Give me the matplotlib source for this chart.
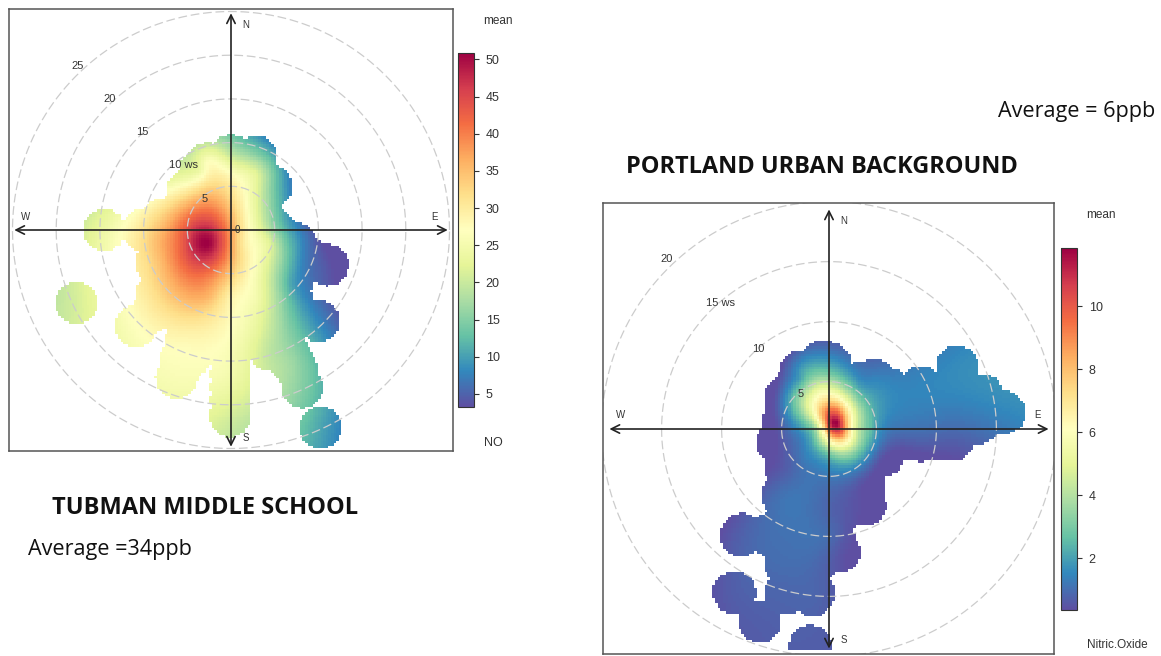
import numpy as np
import matplotlib
matplotlib.use("Agg")
import matplotlib.pyplot as plt

W, H = 1161, 656
plt.rcParams['font.family'] = ['Liberation Sans', 'DejaVu Sans']

# Tubman: (east, north, mean NO)
tub_u = [-17.7,-14.5,-10.1,-10.8,-8.5,-8.5,-6.2,-5.1,-0.1,0,8.2,6.8,10.3,10.1,6.8,11.1,8.6,5,4.7,2.9,0,-3.5,-5,-7.8,6.8,4.5,
         -2.7,0,1.45,3,4.5,6,7.5,-5.8,-7.7,-2.7,-2.7,-2.7,-2.7,0,0,3,-2.7,-2.7,-2.7,0,0,0,3,3,6]
tub_v = [-8.3,0,0,-11,-7.3,-3.8,-16.9,-12.7,-21.3,-16.5,-18,-15,-22.6,-10.4,-10,-4,-3.1,0.1,5,8.4,8.5,6.9,4.5,1.2,-6.2,-13.8,
         -1.5,-1.5,-1.5,-1.5,-1.5,-1.5,-1.5,-1.5,-1.5,1.9,3.8,5.7,7.6,3.8,6.5,6.5,-5,-7.6,-10,-5,-7.6,-11.5,-7.6,-11.5,-7.6]
tub_val = [21,24,31,27,32,34,26,28,21,25,15,17,10.5,8,14,4,7,16,15,16,20,24,30,34,11,19,
           51,38,30,26,22,15,10,42,37,42,36,30,27,32,27,22,41,36,31,34,29,27,25,23,15]
# extra wind sectors that carry data, for the outline of the surface only
tub_cover_u = [-3,0,2.5,-6,-3,0,3,-7,-4,-1,2,5,-6,-3,0,3,5,-5,-2,1,3,-4.2,-1.5,0,0,0,0,0,5.2,5.8,6.4,7,7.6,7,7,7,9,3.5,-1,-6,-3,4.6,-9,-7,-5.7,-4.6]
tub_cover_v = [5,5,5,2,2,2,2,-2,-2,-2,-2,-2,-6,-6,-6,-6,-6,-10,-10,-10,-10,-12,-12,-12,-13.5,-15,-18,-19.5,-11.2,-12.4,-13.6,-14.8,-16,-8,-6,-2.7,-3.3,2,7.5,-9,-13,-10,-9.3,-9,-14.8,-14.5]
tub_rings = [5,10,15,20,25]
tub_ring_labels = ['5','10 ws','15','20','25']
tub_label_u = [-3,-5.4,-10.2,-13.9,-17.6]
tub_label_v = [3.6,7.4,11.2,15,18.8]
tub_ticks = [5,10,15,20,25,30,35,40,45,50]

# Portland: (east, north, mean NO)
por_u = [-0.7,3.7,-2.5,-3.7,-3.9,-4.3,-3.6,-3.9,-7.3,-3.3,-3.6,-3.6,-1.4,-7.9,-5.8,-1.6,0.8,2.9,2.8,4.4,14.5,10.6,12.7,7.6,12.4,10.3,7.6,
         0.5,-0.5,-0.6,1.2,0.9,0,1.75,2.3,3.4,4,0,0,0,-1,-2.1,-3,-1.6,-2.7,-0.75,0.6,2.3,0,0,-2.4,2.6,-1.6,3.7,6.1,-2,-2,0,-0.2]
por_v = [5.6,4.1,4.2,2.6,0.6,-1.1,-3.3,-5.5,-8.8,-8.8,-11.3,-13.6,-13.8,-13.6,-16,-18.1,-10.2,-6.3,-4.7,-2.2,1.4,5.2,2.8,3.5,0.6,-0.8,-0.9,
         0.5,1.6,2.1,0.75,-0.4,-0.6,0.2,-0.1,-0.1,-0.1,-1.3,-2.3,-3.4,0.2,0.2,-0.1,2.1,2.7,3.25,3,2.4,4.6,5.5,4.8,3.9,4.6,2.7,0.3,-2.2,-4.7,-6.9,-9.1]
por_val = [2,1.5,2,1.5,0.9,0.45,0.7,1.1,0.75,1.1,1,0.85,0.85,0.7,0.7,0.7,0.55,0.35,0.4,0.55,1.5,1.6,1.6,1.5,1.2,0.75,0.8,
           11.9,8.5,7.5,9,9.5,7.5,6.5,4.5,2.6,1.8,5,2.5,1.5,4.5,2.3,1.3,5.5,3.2,5.5,5.5,3.5,3,2,2,1.7,2.8,2,1.2,1.4,1.15,0.8,1]
por_cover_u = [5,5,5,7.6,10,10,12.5,-2,1,3,-3,-1,1,3,-3,-1,1,3,-3,-1,1,2.8,-3,-1,1,2.8,-3,-1,0.8,-5,-3,-1,0.3,-3,-1,-2,1,-1.4,6,9]
por_cover_v = [3.3,1,-1,1.5,3,1,1.5,3,3,3,1,1,1,1,-1,-1,-1,-1,-3,-3,-3,-3,-5,-5,-5,-5,-7,-7,-7,-8.8,-9,-9,-9,-11,-11,-11,-3,-13.5,-0.8,-0.8]
por_rings = [5,10,15,20]
por_ring_labels = ['5','10','15 ws','20']
por_label_u = [-2.4,-5.9,-9,-13.5]
por_label_v = [2.9,6.7,10.5,14.2]
por_ticks = [2,4,6,8,10]


def ax_px(x0, y0, x1, y1):
    return fig.add_axes([x0/W, 1-y1/H, (x1-x0)/W, (y1-y0)/H])


def surface(u, v, val, cu, cv, xlim, ylim, step, radius):
    u, v, val = map(np.asarray, (u, v, val))
    xs = np.arange(xlim[0]+step/2, xlim[1], step)
    ys = np.arange(ylim[0]+step/2, ylim[1], step)
    X, Y = np.meshgrid(xs, ys)

    def basis(d):
        return d**2*np.log(d+1e-9)
    P = np.c_[np.ones_like(u), u, v]
    D = np.hypot(u[:, None]-u[None], v[:, None]-v[None])
    A = np.block([[basis(D), P], [P.T, np.zeros((3, 3))]])
    w = np.linalg.lstsq(A, np.r_[val, 0, 0, 0], rcond=None)[0]
    d = np.hypot(X[..., None]-u, Y[..., None]-v)
    Z = basis(d)@w[:-3]+w[-3]+w[-2]*X+w[-1]*Y
    mask = (d < radius).any(axis=-1)
    mask |= (np.hypot(X[..., None]-np.asarray(cu), Y[..., None]-np.asarray(cv)) < radius).any(axis=-1)
    return np.ma.array(Z, mask=~mask)


def panel(box, cbox, cx, cy, scale, offset, arm, u, v, val, cu, cv, rings, ring_labels, lu, lv,
          ticks, vmin, vmax, radius, dirs, bottom=None):
    ax = ax_px(*box)
    xlim = ((box[0]-cx)/scale, (box[2]-cx)/scale)
    ylim = ((cy-box[3])/scale, (cy-box[1])/scale)
    ylo = ylim[0] if bottom is None else bottom
    Z = surface(u, v, val, cu, cv, xlim, (ylo, ylim[1]), 2.6/scale, radius)
    im = ax.imshow(Z, origin='lower', extent=(xlim[0], xlim[1], ylo, ylim[1]),
                   cmap='Spectral_r', vmin=vmin, vmax=vmax, aspect='auto',
                   interpolation='nearest', zorder=1)
    th = np.linspace(0, 2*np.pi, 400)
    for r in rings:
        ax.plot((r+offset)*np.cos(th), (r+offset)*np.sin(th), color='#CCCCCC', lw=0.9,
                ls=(0, (7, 3)), zorder=2)
    for a, b in (((-arm, 0), (arm, 0)), ((0, -arm), (0, arm))):
        ax.annotate('', xy=b, xytext=a, zorder=4,
                    arrowprops=dict(arrowstyle='<->,head_length=0.6,head_width=0.3', lw=1.2,
                                    color='#222222', shrinkA=0, shrinkB=0))
    for t, x, y in zip(ring_labels, lu, lv):
        ax.text(x, y, t, fontsize=8, color='#333333', ha='center', va='center', zorder=5)
    for t, x, y in dirs:
        ax.text(x, y, t, fontsize=7, color='#333333', ha='center', va='center', zorder=5)
    ax.set_xlim(xlim)
    ax.set_ylim(ylim)
    ax.set_xticks([])
    ax.set_yticks([])
    for s in ax.spines.values():
        s.set_color('#555555')
        s.set_linewidth(1.1)
    cax = ax_px(*cbox)
    cb = fig.colorbar(im, cax=cax, ticks=ticks)
    cb.ax.tick_params(labelsize=9, length=3.5, width=0.8, color='#333333',
                      labelcolor='#333333', pad=5)
    cb.outline.set_edgecolor('#333333')
    cb.outline.set_linewidth(0.8)
    return ax


def txt(x, y, s, **kw):
    fig.text(x/W, 1-y/H, s, va='center', **kw)


fig = plt.figure(figsize=(W/100, H/100), dpi=100, facecolor='white')

panel((9, 9, 453, 451), (458, 52.7, 474, 407), 231, 230, 8.74, 0, 24.8,
      tub_u, tub_v, tub_val, tub_cover_u, tub_cover_v, tub_rings, tub_ring_labels, tub_label_u, tub_label_v,
      tub_ticks, 3.25, 50.9, 2.4,
      [('N', 1.65, 23.5), ('S', 1.65, -23.8), ('W', -23.5, 1.5), ('E', 23.3, 1.5), ('0', 0.7, 0)])
panel((603, 203, 1054, 654), (1061, 248.3, 1077, 610), 829, 429, 12, -1.05, 18.3,
      por_u, por_v, por_val, por_cover_u, por_cover_v, por_rings, por_ring_labels, por_label_u, por_label_v,
      por_ticks, 0.36, 11.84, 1.8,
      [('N', 1.2, 17.3), ('S', 1.2, -17.6), ('W', -17.4, 1.2), ('E', 17.4, 1.2)], bottom=-18.4)

small = dict(fontsize=8.5, color='#333333', ha='center')
txt(498, 21, 'mean', **small)
txt(493, 443, 'NO', fontsize=9, color='#333333', ha='center')
txt(1101, 215, 'mean', **small)
txt(1117, 645, 'Nitric.Oxide', **small)

big = dict(color='#111111', family=['Open Sans', 'DejaVu Sans'])
txt(52, 508, 'TUBMAN MIDDLE SCHOOL', fontsize=17, fontweight='bold', **big)
txt(626, 167, 'PORTLAND URBAN BACKGROUND', fontsize=16.9, fontweight='bold', **big)
txt(28, 550, 'Average =34ppb', fontsize=15.6, **big)
txt(998, 112, 'Average = 6ppb', fontsize=15.6, **big)

fig.savefig('out.png', dpi=100, facecolor='white')
